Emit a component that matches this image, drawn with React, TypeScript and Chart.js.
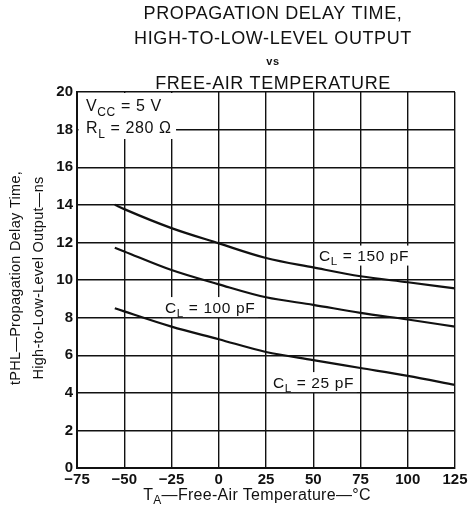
import React, { useEffect, useRef } from 'react';
import { Chart, registerables } from 'chart.js';

Chart.register(...registerables);

// ---- data ----
const temps = [-55, -50, -25, 0, 25, 50, 75, 100, 125];
const cl150 = [14.0, 13.77, 12.76, 11.95, 11.17, 10.67, 10.2, 9.88, 9.55];
const cl100 = [11.72, 11.52, 10.53, 9.77, 9.08, 8.68, 8.25, 7.9, 7.52];
const cl25 = [8.5, 8.33, 7.52, 6.85, 6.17, 5.74, 5.32, 4.9, 4.42];

const xTickValues = [-75, -50, -25, 0, 25, 50, 75, 100, 125];
const xTickLabels = ['\u221275', '\u221250', '\u221225', '0', '25', '50', '75', '100', '125'];
const yTickValues = [0, 2, 4, 6, 8, 10, 12, 14, 16, 18, 20];

const titleLines = ['PROPAGATION DELAY TIME,', 'HIGH-TO-LOW-LEVEL OUTPUT', 'vs', 'FREE-AIR TEMPERATURE'];
const yTitleLines = ['tPHL\u2014Propagation Delay Time,', 'High-to-Low-Level Output\u2014ns'];

type Part = [string, boolean];
const curveLabels: { parts: Part[]; x: number; y: number }[] = [
  { parts: [['C', false], ['L', true], [' = 150 pF', false]], x: 53, y: 11.3 },
  { parts: [['C', false], ['L', true], [' = 100 pF', false]], x: -28.4, y: 8.56 },
  { parts: [['C', false], ['L', true], [' = 25 pF', false]], x: 28.7, y: 4.57 },
];
const condLines: Part[][] = [
  [['V', false], ['CC', true], [' = 5 V', false]],
  [['R', false], ['L', true], [' = 280 \u03A9', false]],
];

const FONT = '"Liberation Sans", Arial, Helvetica, sans-serif';

function richWidth(ctx: CanvasRenderingContext2D, parts: Part[], size: number) {
  let w = 0;
  for (const [t, sub] of parts) {
    ctx.font = `${sub ? size * 0.75 : size}px ${FONT}`;
    w += ctx.measureText(t).width;
  }
  return w;
}

function drawRich(ctx: CanvasRenderingContext2D, parts: Part[], x: number, y: number, size: number) {
  let cx = x;
  ctx.textAlign = 'left';
  ctx.textBaseline = 'alphabetic';
  for (const [t, sub] of parts) {
    ctx.font = `${sub ? size * 0.75 : size}px ${FONT}`;
    ctx.fillText(t, cx, sub ? y + size * 0.28 : y);
    cx += ctx.measureText(t).width;
  }
}

const textPlugin = {
  id: 'texts',
  beforeDatasetsDraw(chart: any) {
    const { ctx, chartArea, scales } = chart;
    const xs = scales.x;
    const ys = scales.y;
    ctx.save();
    (ctx as any).letterSpacing = '0.6px';
    // conditions box
    ctx.fillStyle = '#fff';
    ctx.fillRect(chartArea.left + 1.5, chartArea.top + 1, xs.getPixelForValue(-22.6) - chartArea.left - 1.5, ys.getPixelForValue(17.5) - chartArea.top - 1);
    ctx.fillStyle = '#111';
    drawRich(ctx, condLines[0], xs.getPixelForValue(-70.2), ys.getPixelForValue(18.98), 16);
    drawRich(ctx, condLines[1], xs.getPixelForValue(-70.2), ys.getPixelForValue(17.8), 16);
    // curve labels
    for (const lab of curveLabels) {
      const px = xs.getPixelForValue(lab.x);
      const py = ys.getPixelForValue(lab.y);
      const w = richWidth(ctx, lab.parts, 15.5);
      ctx.fillStyle = '#fff';
      ctx.fillRect(px - 3, py - 10, w + 6, 20);
      ctx.fillStyle = '#111';
      drawRich(ctx, lab.parts, px, py + 5.5, 15.5);
    }
    ctx.restore();
  },
  afterDraw(chart: any) {
    const { ctx, chartArea } = chart;
    ctx.save();
    ctx.fillStyle = '#111';
    (ctx as any).letterSpacing = '0.6px';
    ctx.textAlign = 'center';
    ctx.textBaseline = 'alphabetic';
    const cx = 273;
    ctx.font = `18px ${FONT}`;
    ctx.fillText(titleLines[0], cx, 19);
    ctx.fillText(titleLines[1], cx, 44);
    ctx.font = `bold 11px ${FONT}`;
    ctx.fillText(titleLines[2], cx, 65);
    ctx.font = `18px ${FONT}`;
    ctx.fillText(titleLines[3], cx, 89);

    // x axis title
    (ctx as any).letterSpacing = '0.3px';
    const xParts: Part[] = [['T', false], ['A', true], ['\u2014Free-Air Temperature\u2014\u00B0C', false]];
    const w = richWidth(ctx, xParts, 16);
    drawRich(ctx, xParts, (chartArea.left + chartArea.right) / 2 - 9 - w / 2, 500, 16);

    // y axis title
    ctx.translate(0, (chartArea.top + chartArea.bottom) / 2);
    ctx.rotate(-Math.PI / 2);
    ctx.textAlign = 'center';
    ctx.textBaseline = 'middle';
    ctx.font = `14.5px ${FONT}`;
    ctx.fillText(yTitleLines[0], 2, 16);
    ctx.fillText(yTitleLines[1], 2, 39);
    ctx.restore();
  },
};

export default function App() {
  const ref = useRef<HTMLCanvasElement>(null);
  useEffect(() => {
    document.body.style.margin = '0';
    const mk = (label: string, vals: number[]) => ({
      label,
      data: temps.map((t, i) => ({ x: t, y: vals[i] })),
      borderColor: '#111',
      borderWidth: 2.2,
      pointRadius: 0,
      fill: false,
      cubicInterpolationMode: 'monotone' as const,
    });
    const chart = new Chart(ref.current!, {
      type: 'line',
      data: {
        datasets: [mk('CL = 150 pF', cl150), mk('CL = 100 pF', cl100), mk('CL = 25 pF', cl25)],
      },
      options: {
        responsive: false,
        animation: false,
        layout: { padding: { top: 92, left: 0, right: 21, bottom: 0 } },
        plugins: { legend: { display: false }, tooltip: { enabled: false }, title: { display: false } },
        scales: {
          x: {
            type: 'linear',
            min: -75,
            max: 125,
            afterBuildTicks: (s: any) => {
              s.ticks = xTickValues.map((v) => ({ value: v }));
            },
            afterFit: (s: any) => {
              s.height = 43;
            },
            grid: { color: '#111', lineWidth: 1.4, drawTicks: false },
            border: { color: '#111', width: 2 },
            ticks: {
              color: '#111',
              padding: 3,
              maxRotation: 0,
              autoSkip: false,
              font: { family: FONT, size: 15, weight: 'bold' },
              callback: (_v: any, i: number) => xTickLabels[i],
            },
          },
          y: {
            type: 'linear',
            min: 0,
            max: 20,
            afterBuildTicks: (s: any) => {
              s.ticks = yTickValues.map((v) => ({ value: v }));
            },
            afterFit: (s: any) => {
              s.width = 77;
            },
            grid: { color: '#111', lineWidth: 1.4, drawTicks: false },
            border: { color: '#111', width: 2 },
            ticks: {
              color: '#111',
              padding: 4,
              autoSkip: false,
              font: { family: FONT, size: 15, weight: 'bold' },
              callback: (v: any) => String(v),
            },
          },
        },
      },
      plugins: [textPlugin],
    });
    return () => chart.destroy();
  }, []);
  return (
    <div style={{ width: 476, height: 511 }}>
      <canvas ref={ref} width={476} height={511} style={{ display: 'block' }} />
    </div>
  );
}
